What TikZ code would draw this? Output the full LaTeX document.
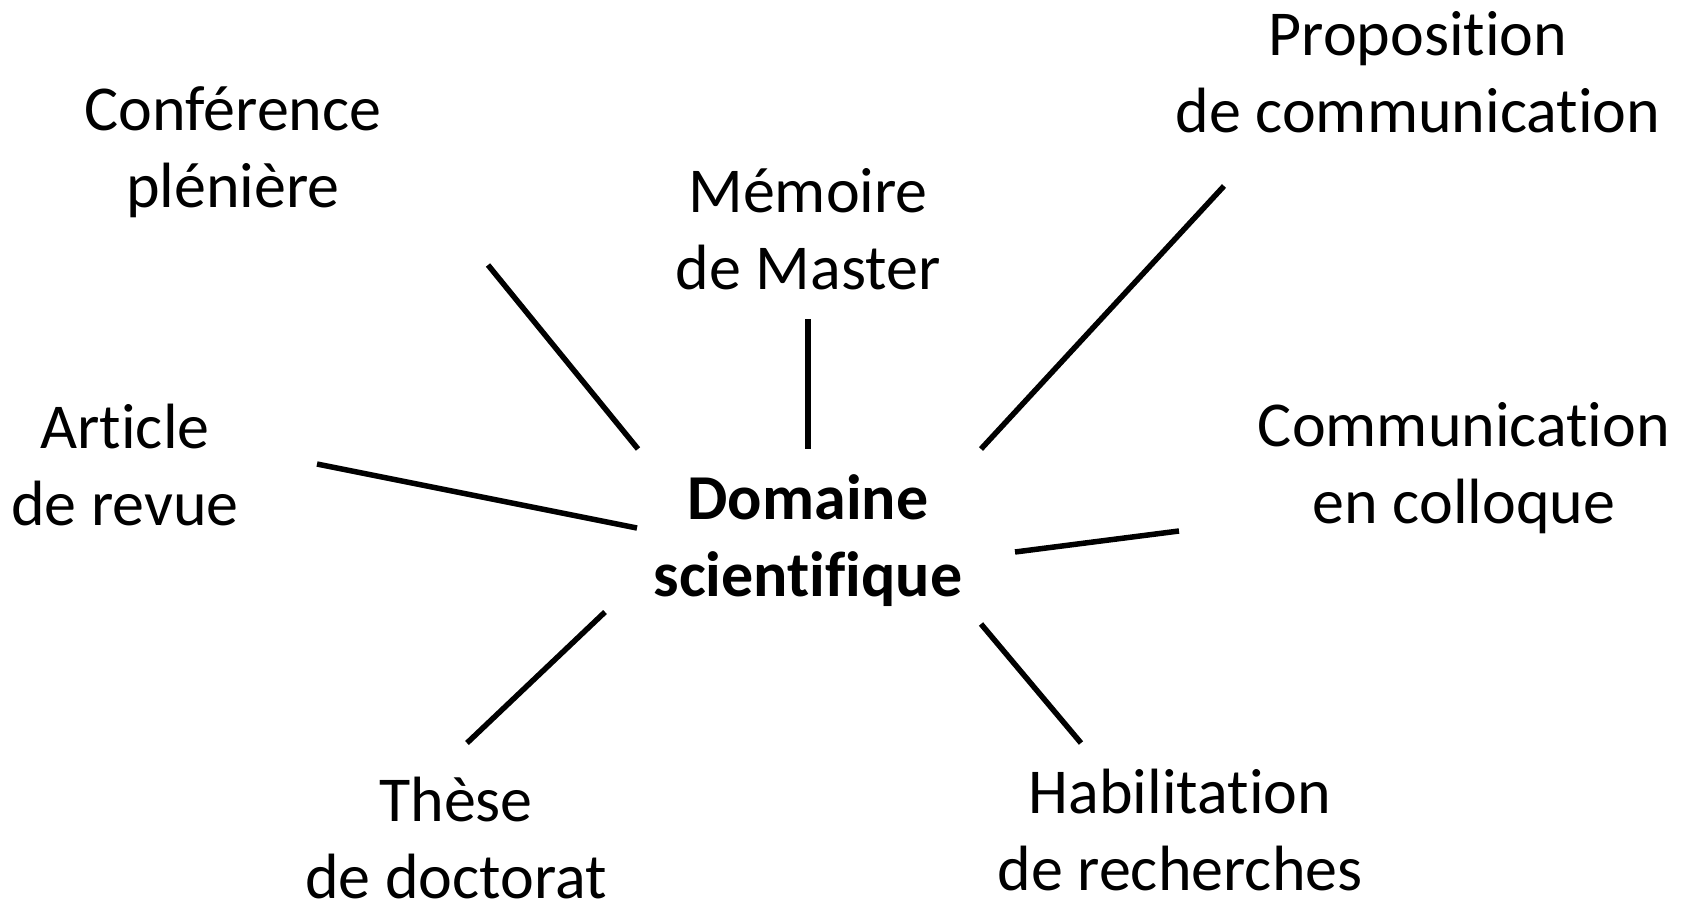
\documentclass[tikz,border=0pt]{standalone}
\usepackage{fontspec}
\setmainfont[Ligatures={NoCommon,NoRare,NoContextual}]{Carlito}
\begin{document}
\begin{tikzpicture}[x=1pt,y=-1pt,
  lbl/.style={align=center,inner sep=0pt,font=\fontsize{64}{77}\selectfont},
  hub/.style={lbl,font=\fontsize{64}{77}\selectfont\bfseries},
  spoke/.style={line width=5.5pt,black}]
\useasboundingbox[fill=white] (0,0) rectangle (1684,905);
\node[lbl] (conf) at (233,152) {Conférence\\plénière};
\node[lbl] (mem) at (808,229) {Mémoire\\de Master};
\node[lbl] (prop) at (1418,72) {Proposition\\de communication};
\node[lbl] (art) at (125,465) {Article\\de revue};
\node[hub] (dom) at (808,541) {Domaine\\scientifique};
\node[lbl] (comm) at (1464,468) {Communication\\en colloque};
\node[lbl] (these) at (456,838) {Thèse\\de doctorat};
\node[lbl] (hab) at (1180,830) {Habilitation\\de recherches};
\coordinate (c1a) at (488,265); \coordinate (c1b) at (638,449);
\coordinate (c2a) at (808,319); \coordinate (c2b) at (808,449);
\coordinate (c3a) at (1224,186); \coordinate (c3b) at (981,449);
\coordinate (c4a) at (317,464); \coordinate (c4b) at (637,528);
\coordinate (c5a) at (1179,531); \coordinate (c5b) at (1015,552);
\coordinate (c6a) at (605,612); \coordinate (c6b) at (467,743);
\coordinate (c7a) at (981,624); \coordinate (c7b) at (1081,743);
\draw[spoke] (c1a) -- (c1b);
\draw[spoke] (c2a) -- (c2b);
\draw[spoke] (c3a) -- (c3b);
\draw[spoke] (c4a) -- (c4b);
\draw[spoke] (c5a) -- (c5b);
\draw[spoke] (c6a) -- (c6b);
\draw[spoke] (c7a) -- (c7b);
\end{tikzpicture}
\end{document}
